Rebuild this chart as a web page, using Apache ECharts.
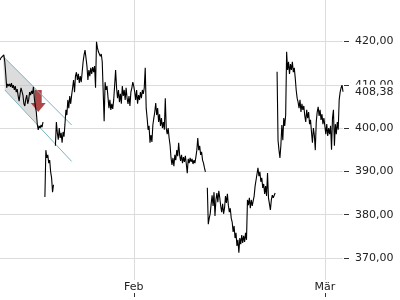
<!DOCTYPE html>
<html><head><meta charset="utf-8">
<script src="https://cdn.jsdelivr.net/npm/echarts@6/dist/echarts.min.js"></script>
<style>html,body{margin:0;padding:0;background:#fff}#c{width:400px;height:300px}</style>
</head><body><div id="c"></div>
<script>
const tradingDays = [
  '2023-01-12','2023-01-13','2023-01-16','2023-01-17','2023-01-18','2023-01-19','2023-01-20',
  '2023-01-23','2023-01-24','2023-01-25','2023-01-26','2023-01-27','2023-01-30','2023-01-31',
  '2023-02-01','2023-02-02','2023-02-03','2023-02-06','2023-02-07','2023-02-08','2023-02-09','2023-02-10',
  '2023-02-13','2023-02-14','2023-02-15','2023-02-16','2023-02-17','2023-02-20','2023-02-21','2023-02-22',
  '2023-02-23','2023-02-24','2023-02-27','2023-02-28','2023-03-01','2023-03-02'
];
const intradaySlots = ['08:00','09:00','10:00','11:00','12:00','13:00','14:00','15:00','16:00','17:00'];
const monthNames = ['Jan','Feb','Mär','Apr','Mai','Jun','Jul','Aug','Sep','Okt','Nov','Dez'];

const prices = [
  415.7, 416.2, 416.6, 416.4, 416.9, 415.3, 412.5, 409.3, 410.2, 409.7,
  410.2, 409.5, 410.4, 409.3, 409.9, 408.8, 409.7, 408.3, 409.0, 407.4,
  406.2, 407.9, 409.3, 409.7, 407.6, 405.6, 405.1, 406.7, 407.6, 405.6,
  406.5, 408.3, 407.6, 408.6, 407.9, 409.5, 406.7, 405.1, 403.7, 400.9,
  399.6, 400.5, 400.0, 400.7, 400.2, 401.4, null, 384.1, 394.9, 393.1,
  393.8, 391.9, 392.6, 389.9, 388.5, 385.2, 386.9, null, 395.9, 401.4,
  398.9, 397.3, 400.0, 397.7, 398.9, 396.6, 399.1, 398.0, 400.9, 404.2,
  403.0, 406.5, 404.6, 407.4, 405.6, 407.6, 409.3, 411.1, 408.3, 412.0,
  412.9, 411.1, 412.5, 410.4, 412.0, 410.6, 412.9, 415.3, 416.9, 418.0,
  416.2, 414.3, 411.1, 413.4, 412.0, 413.9, 412.5, 414.1, 412.9, 414.3,
  409.3, 419.9, 418.5, 417.6, 418.0, 416.6, 417.1, 415.3, 415.7, 401.6,
  410.6, 408.8, 409.7, 407.2, 404.6, 406.5, 404.2, 405.6, 404.4, 406.5,
  409.9, 413.4, 409.3, 406.9, 408.8, 406.0, 407.9, 405.6, 409.7, 407.4,
  408.8, 406.5, 409.3, 406.9, 405.6, 407.4, 405.1, 408.3, 409.3, 410.6,
  409.7, 408.3, 406.5, 408.8, 405.6, 407.6, 406.5, 408.3, 406.9, 408.8,
  407.9, 409.3, 413.9, 404.6, 402.3, 399.6, 400.5, 396.6, 398.4, 396.8,
  400.7, 402.3, 403.7, 405.8, 403.0, 404.6, 401.4, 403.2, 400.5, 402.3,
  400.0, 401.4, 399.6, 406.9, 400.0, 398.6, 400.0, 397.7, 396.1, 393.1,
  391.5, 393.1, 391.2, 393.8, 392.6, 394.9, 393.5, 396.6, 393.8, 392.4,
  393.8, 391.9, 393.3, 392.2, 393.6, 391.7, 389.6, 392.9, 391.9, 393.1,
  392.2, 392.9, 391.7, 392.6, 391.9, 393.3, 394.9, 397.7, 394.9, 395.9,
  393.8, 394.5, 392.6, 391.9, 390.8, 389.9, null, 386.2, 377.8, 379.2,
  380.2, 382.5, 384.5, 382.0, 385.2, 379.7, 383.4, 385.0, 382.9, 385.5,
  383.9, 382.0, 380.6, 382.5, 380.2, 381.5, 384.3, 382.7, 384.8, 382.2,
  380.6, 381.5, 379.2, 378.3, 376.0, 377.4, 374.6, 375.8, 372.8, 374.2,
  371.2, 374.6, 373.2, 375.3, 373.5, 375.1, 373.7, 375.8, 374.2, 383.4,
  382.2, 383.9, 381.5, 383.4, 382.0, 383.2, 384.3, 386.6, 388.0, 389.4,
  390.8, 388.9, 389.9, 387.6, 388.5, 386.2, 387.1, 384.8, 386.6, 384.3,
  389.6, 383.9, 382.5, 381.1, 383.4, 384.5, 383.9, 384.3, 385.0, null,
  413.0, 397.2, 394.9, 393.1, 396.1, 400.7, 397.2, 402.3, 400.5, 403.0,
  417.6, 413.4, 415.3, 412.5, 414.8, 413.4, 415.3, 412.9, 413.9, 411.6,
  408.8, 406.9, 406.0, 404.6, 406.5, 403.7, 405.6, 404.2, 405.1, 402.8,
  401.4, 404.2, 402.3, 403.7, 400.9, 401.9, 399.1, 396.6, 400.0, 398.4,
  394.9, 401.4, 403.7, 404.9, 402.8, 404.2, 401.9, 403.2, 400.9, 402.3,
  400.5, 398.6, 400.9, 398.2, 400.0, 398.6, 400.5, 395.0, 402.3, 404.2,
  395.9, 400.9, 398.6, 401.4, 399.6, 406.5, 408.3, 409.3, 409.9, 408.38
];
const lastPrice = 408.38;

// trend channel annotation (x = position in the intraday sequence, y = price)
const channelUpper = [[3.45, 416.6], [75, 400.7]];
const channelLower = [[5.2, 408.8], [75, 392.3]];
const channelFill = [[3.45, 416.6], [37.5, 409.03], [37.5, 401.16], [5.2, 408.8]];
const signalArrow = [[40.3, 406.25]];

const yMin = 360, yMax = 429.8, yStep = 10;

const categories = tradingDays.flatMap(d => intradaySlots.map(s => d + ' ' + s));
function isMonthStart(idx) {
  const n = intradaySlots.length;
  if (idx % n !== 0 || idx === 0) return false;
  const d = idx / n;
  return tradingDays[d].slice(0, 7) !== tradingDays[d - 1].slice(0, 7);
}
const fmt = v => v.toFixed(2).replace('.', ',');
const FONT = 'DejaVu Sans';
const TXT = '#222';

const chart = echarts.init(document.getElementById('c'), null, {renderer: 'canvas'});
chart.setOption({
  animation: false,
  textStyle: {fontFamily: FONT},
  grid: [
    {left: 0, right: 57, top: -1, height: 302.3, outerBoundsMode: 'none', containLabel: false},
    {left: 0, right: 57, top: -1, height: 281, outerBoundsMode: 'none', containLabel: false}
  ],
  xAxis: [
    {gridIndex: 0, type: 'category', position: 'bottom', data: categories, boundaryGap: false, show: false},
    {gridIndex: 1, type: 'category', position: 'bottom', data: categories, boundaryGap: false,
      axisLine: {show: false}, axisTick: {show: false},
      axisLabel: {interval: (i) => isMonthStart(i), margin: 2, color: TXT, fontSize: 11, fontFamily: FONT,
        formatter: (v) => monthNames[parseInt(v.slice(5, 7), 10) - 1]},
      splitLine: {show: true, interval: (i) => isMonthStart(i), lineStyle: {color: '#dcdcdc', width: 1}}},
    {gridIndex: 1, type: 'category', position: 'bottom', data: categories, boundaryGap: false, offset: 13,
      axisLine: {show: false}, axisLabel: {show: false}, splitLine: {show: false},
      axisTick: {show: true, interval: (i) => isMonthStart(i), length: 4, lineStyle: {color: '#333'}}}
  ],
  yAxis: [
    {gridIndex: 0, type: 'value', position: 'right', min: yMin, max: yMax, interval: yStep, offset: 1,
      axisLine: {show: false},
      axisTick: {show: true, length: 5, lineStyle: {color: '#333'}},
      axisLabel: {margin: 11, color: TXT, fontSize: 11, fontFamily: FONT, formatter: fmt,
        showMinLabel: false, showMaxLabel: false},
      splitLine: {show: true, lineStyle: {color: '#dcdcdc', width: 1}}},
    {gridIndex: 1, type: 'value', position: 'right', show: false, min: yMin, max: yMax}
  ],
  series: [
    {type: 'custom', xAxisIndex: 0, yAxisIndex: 0, silent: true, z: 1,
      data: [channelFill[0]],
      renderItem: (params, api) => ({
        type: 'polygon',
        shape: {points: channelFill.map(p => api.coord(p))},
        style: {fill: 'rgba(185,185,185,0.5)'}
      })},
    {type: 'scatter', xAxisIndex: 0, yAxisIndex: 0, silent: true, z: 2,
      data: signalArrow,
      symbol: 'path://M4,0 L11,0 L11,13 L15,13 L7.5,22 L0,13 L4,13 Z',
      symbolSize: [15, 22],
      itemStyle: {color: '#a53434', opacity: 0.9}},
    {type: 'line', xAxisIndex: 0, yAxisIndex: 0, silent: true, z: 3, data: channelUpper,
      showSymbol: false, symbol: 'none', lineStyle: {color: '#78b4bc', width: 1}},
    {type: 'line', xAxisIndex: 0, yAxisIndex: 0, silent: true, z: 3, data: channelLower,
      showSymbol: false, symbol: 'none', lineStyle: {color: '#78b4bc', width: 1}},
    {type: 'line', xAxisIndex: 0, yAxisIndex: 0, z: 4, data: prices,
      showSymbol: false, symbol: 'none', connectNulls: false,
      lineStyle: {color: '#000', width: 1.1},
      markLine: {silent: true, symbol: 'none', animation: false,
        lineStyle: {color: 'rgba(0,0,0,0)', width: 0},
        label: {show: true, position: 'end', distance: 12, formatter: () => fmt(lastPrice),
          color: TXT, fontSize: 11, fontFamily: FONT, backgroundColor: '#fff', padding: [2, 0, 1, 0]},
        data: [{yAxis: lastPrice}]}}
  ]
});
</script></body></html>
